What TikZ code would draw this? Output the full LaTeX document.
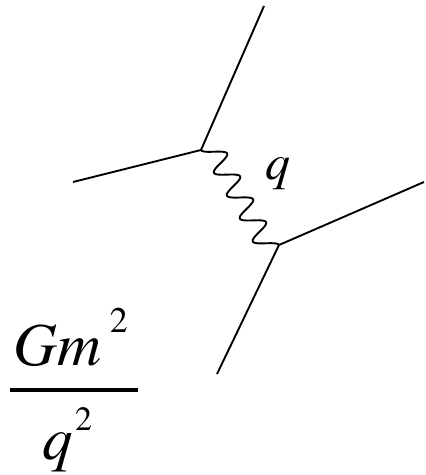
\documentclass[tikz,border=0pt]{standalone}
\usepackage{fontspec}
\newfontfamily\tms{TeX Gyre Termes}
\begin{document}
\begin{tikzpicture}[x=1pt,y=-1pt,
  leg/.style={line width=1.9pt},
  photon/.style={line width=1.9pt,line join=round},
  txt/.style={inner sep=0pt,outer sep=0pt,anchor=base west}]
\useasboundingbox (0,0) rectangle (426,475);
\coordinate (v1) at (201,150);
\coordinate (v2) at (279,245);
\coordinate (a) at (264,6);
\coordinate (b) at (73,182);
\coordinate (c) at (424,182);
\coordinate (d) at (217,374);
\draw[leg] (b) -- (v1) -- (a);
\draw[leg] (c) -- (v2) -- (d);
% wavy propagator from v1 to v2 (4.5 periods, skewed displacement)
\draw[photon] (v1) -- plot[domain=0:1,samples=240,variable=\t]
  ({210.8+58.4*\t-9.8*cos(1620*\t)},{146+103*\t+4*cos(1620*\t)}) -- (v2);
\node[txt] (ql) at (265,179) {\fontsize{50}{60}\tms\itshape q};
\node[txt] (num) at (13,365) {\fontsize{61}{72}\tms\itshape Gm};
\node[txt] (num2) at (110,332) {\fontsize{36}{40}\tms 2};
\coordinate (bl) at (10,390);
\coordinate (br) at (138,390);
\draw[line width=3.5pt] (bl) -- (br);
\node[txt] (den) at (42,459) {\fontsize{61}{72}\tms\itshape q};
\node[txt] (den2) at (75,430) {\fontsize{34}{40}\tms 2};
\end{tikzpicture}
\end{document}
